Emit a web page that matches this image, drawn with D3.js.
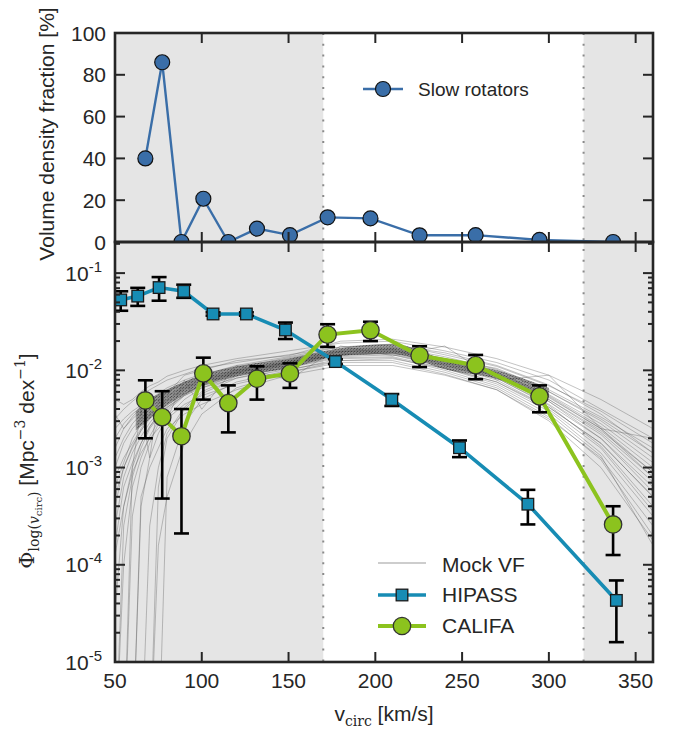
<!DOCTYPE html>
<html>
<head>
<meta charset="utf-8">
<script src="https://cdn.jsdelivr.net/npm/d3@7"></script>
<style>
  body { margin: 0; background: #fff; }
  text { font-family: "Liberation Sans", Arial, sans-serif; fill: #262626; }
  .serif { font-family: "DejaVu Serif", "Liberation Serif", serif; }
</style>
</head>
<body>
<div id="chart"></div>
<script>
// slow rotator fraction (top panel), same bins as CALIFA
var califaV = [67.5, 77.2, 88.3, 100.9, 115.3, 131.8, 150.8, 172.5, 197.2, 225.5, 257.8, 294.6, 337];
var slowFrac = [40, 86, 0, 20.7, 0, 6.4, 3.3, 11.8, 11.3, 3.2, 3.3, 1, 0];

// CALIFA velocity function
var califaPhi = [0.0049, 0.0033, 0.0021, 0.0093, 0.0046, 0.0082, 0.0093, 0.0233, 0.0258, 0.0142, 0.0113, 0.0054, 0.00026];
var califaHi  = [0.0079, 0.0061, 0.0040, 0.0135, 0.0070, 0.0110, 0.0118, 0.0298, 0.0316, 0.0177, 0.0144, 0.0070, 0.00040];
var califaLo  = [0.0020, 0.00048, 0.00021, 0.0050, 0.0023, 0.0050, 0.0066, 0.0174, 0.0200, 0.0108, 0.0081, 0.0037, 0.000126];

// HIPASS velocity function
var hipassV   = [53.3, 63.1, 75.4, 89.6, 106.5, 125.7, 148.2, 177, 209.5, 248.5, 287.9, 338.9];
var hipassPhi = [0.053, 0.058, 0.071, 0.065, 0.038, 0.038, 0.026, 0.0123, 0.0050, 0.0016, 0.00042, 0.000043];
var hipassHi  = [0.065, 0.0705, 0.091, 0.076, 0.0395, 0.0395, 0.031, 0.0130, 0.0057, 0.0019, 0.00059, 0.000069];
var hipassLo  = [0.041, 0.046, 0.052, 0.0557, 0.0365, 0.0365, 0.021, 0.0116, 0.0043, 0.00128, 0.00026, 0.000016];

// mock velocity functions, log10(phi) on a common grid
var mockV = [50, 55, 60, 65, 70, 75, 80, 90, 100, 120, 150, 180, 210, 240, 270, 300, 330, 360];
var mockCurves = [
  [-3.10,-2.90,-2.75,-2.60,-2.45,-2.35,-2.27,-2.17,-2.10,-2.00,-1.90,-1.80,-1.79,-1.92,-2.04,-2.28,-2.60,-3.10],
  [-2.50,-2.40,-2.32,-2.25,-2.20,-2.15,-2.10,-2.04,-1.98,-1.92,-1.84,-1.76,-1.74,-1.82,-1.95,-2.15,-2.45,-2.85],
  [-6.00,-3.60,-3.10,-2.80,-2.60,-2.48,-2.38,-2.25,-2.15,-2.03,-1.92,-1.83,-1.80,-1.90,-2.02,-2.25,-2.55,-2.95],
  [-3.40,-3.00,-2.80,-2.62,-2.50,-2.40,-2.32,-2.20,-2.12,-2.02,-1.93,-1.82,-1.83,-1.95,-2.10,-2.38,-2.75,-3.30],
  [-2.80,-2.60,-2.48,-2.38,-2.30,-2.24,-2.18,-2.10,-2.04,-1.96,-1.88,-1.79,-1.77,-1.88,-1.98,-2.20,-2.48,-2.80],
  [-6.00,-6.00,-3.50,-3.00,-2.75,-2.55,-2.42,-2.26,-2.16,-2.04,-1.95,-1.85,-1.82,-1.93,-2.06,-2.32,-2.70,-3.25],
  [-2.30,-2.35,-2.30,-2.22,-2.16,-2.12,-2.06,-2.00,-1.95,-1.88,-1.80,-1.72,-1.70,-1.80,-1.92,-2.10,-2.40,-2.70],
  [-3.80,-3.20,-2.95,-2.75,-2.58,-2.46,-2.36,-2.24,-2.16,-2.06,-1.97,-1.87,-1.86,-1.98,-2.14,-2.42,-2.85,-3.50],
  [-6.00,-6.00,-6.00,-3.40,-2.90,-2.65,-2.48,-2.30,-2.18,-2.05,-1.93,-1.83,-1.81,-1.91,-2.05,-2.30,-2.62,-3.05],
  [-3.00,-2.75,-2.60,-2.50,-2.40,-2.32,-2.26,-2.16,-2.08,-1.99,-1.89,-1.80,-1.78,-1.89,-2.02,-2.26,-2.58,-3.00],
  [-4.50,-3.40,-3.00,-2.75,-2.58,-2.46,-2.38,-2.26,-2.18,-2.08,-1.99,-1.90,-1.90,-2.02,-2.18,-2.48,-2.92,-3.70],
  [-2.60,-2.50,-2.42,-2.36,-2.30,-2.25,-2.20,-2.12,-2.05,-1.95,-1.86,-1.76,-1.73,-1.84,-1.96,-2.16,-2.42,-2.75],
  [-6.00,-6.00,-6.00,-6.00,-6.00,-3.20,-2.70,-2.40,-2.24,-2.08,-1.96,-1.86,-1.84,-1.95,-2.08,-2.35,-2.70,-3.20],
  [-3.20,-2.95,-2.70,-2.55,-2.45,-2.38,-2.30,-2.18,-2.10,-2.02,-1.92,-1.81,-1.80,-1.91,-2.05,-2.32,-2.66,-3.15],
  [-2.90,-2.70,-2.55,-2.45,-2.36,-2.28,-2.22,-2.13,-2.06,-1.97,-1.87,-1.78,-1.76,-1.86,-1.99,-2.22,-2.52,-2.90],
  [-6.00,-6.00,-6.00,-6.00,-3.60,-3.00,-2.65,-2.38,-2.22,-2.06,-1.94,-1.84,-1.82,-1.94,-2.08,-2.36,-2.78,-3.40],
  [-3.60,-3.10,-2.85,-2.68,-2.54,-2.43,-2.34,-2.22,-2.13,-2.03,-1.93,-1.84,-1.82,-1.93,-2.06,-2.30,-2.64,-3.10],
  [-2.70,-2.55,-2.45,-2.38,-2.32,-2.26,-2.22,-2.14,-2.08,-2.00,-1.92,-1.84,-1.84,-1.97,-2.12,-2.40,-2.80,-3.45],
  [-6.00,-4.00,-3.20,-2.90,-2.68,-2.52,-2.40,-2.25,-2.14,-2.02,-1.91,-1.81,-1.78,-1.88,-2.00,-2.22,-2.50,-2.85],
  [-3.30,-3.00,-2.78,-2.62,-2.48,-2.38,-2.30,-2.19,-2.11,-2.01,-1.91,-1.81,-1.79,-1.90,-2.03,-2.27,-2.60,-3.05],
  [-6.00,-6.00,-3.00,-2.40,-2.90,-2.30,-2.50,-2.10,-2.40,-1.95,-2.10,-1.75,-1.85,-1.75,-2.10,-2.05,-2.60,-2.70],
  [-6.00,-6.00,-6.00,-3.30,-3.00,-2.80,-2.60,-2.45,-2.35,-2.20,-2.05,-1.95,-1.95,-2.05,-2.20,-2.50,-2.90,-3.60],
  [-2.45,-2.60,-2.50,-2.42,-2.35,-2.30,-2.24,-2.05,-2.00,-1.90,-1.85,-1.70,-1.68,-1.76,-1.88,-2.05,-2.30,-2.60],
  [-6.00,-6.00,-6.00,-6.00,-6.00,-6.00,-3.10,-2.55,-2.30,-2.12,-2.00,-1.88,-1.87,-2.00,-2.16,-2.45,-2.88,-3.80],
  [-3.90,-3.40,-3.05,-2.85,-2.70,-2.60,-2.50,-2.35,-2.26,-2.14,-2.02,-1.92,-1.92,-2.04,-2.20,-2.52,-3.00,-3.75],
  [-6.00,-6.00,-6.00,-6.00,-6.00,-3.80,-3.30,-2.75,-2.45,-2.18,-2.02,-1.90,-1.88,-1.98,-2.12,-2.38,-2.75,-3.30]
];
// dense core of the mock curves, log10(phi)
var coreV  = [62, 70, 80, 100, 120, 150, 180, 210, 240, 270, 300];
var coreHi = [-2.42, -2.30, -2.20, -2.05, -1.96, -1.88, -1.77, -1.73, -1.89, -2.00, -2.18];
var coreLo = [-2.62, -2.50, -2.36, -2.16, -2.06, -1.98, -1.85, -1.83, -1.99, -2.09, -2.28];

var xTicks = [50, 100, 150, 200, 250, 300, 350];
var fracTicks = [0, 20, 40, 60, 80, 100];
var decades = [-5, -4, -3, -2, -1];

var W = 673, H = 729;
var left = 115, right = 653, top0 = 33, mid = 242, bottom = 662;
var blue = "#3a6ea8", teal = "#178cb4", green = "#8cc31e", ink = "#262626";

var svg = d3.select("#chart").append("svg")
  .attr("width", W)
  .attr("height", H);

var x = d3.scaleLinear().domain([50, 360]).range([left, right]);
var yTop = d3.scaleLinear().domain([0, 100]).range([mid, top0]);
var yBot = d3.scaleLog().domain([1e-5, Math.pow(10, -0.68)]).range([bottom, mid]);

var defs = svg.append("defs");
defs.append("clipPath").attr("id", "clipTop").append("rect")
  .attr("x", left).attr("y", top0).attr("width", right - left).attr("height", mid - top0);
defs.append("clipPath").attr("id", "clipBot").append("rect")
  .attr("x", left).attr("y", mid).attr("width", right - left).attr("height", bottom - mid);

// stipple look for the dense core of the mock curves
var pat = defs.append("pattern").attr("id", "stipple")
  .attr("width", 3).attr("height", 3).attr("patternUnits", "userSpaceOnUse");
pat.append("rect").attr("width", 3).attr("height", 3).style("fill", "#555");
pat.append("rect").attr("width", 1).attr("height", 1).style("fill", "#000");
pat.append("rect").attr("x", 2).attr("y", 1).attr("width", 1).attr("height", 1).style("fill", "#111");

// shaded regions outside 170-320 km/s
[[50, 170], [320, 360]].forEach(function (r) {
  svg.append("rect")
    .attr("x", x(r[0])).attr("width", x(r[1]) - x(r[0]))
    .attr("y", top0).attr("height", bottom - top0)
    .style("fill", "#e5e5e5");
});
[170, 320].forEach(function (v) {
  svg.append("line")
    .attr("x1", x(v)).attr("x2", x(v))
    .attr("y1", top0).attr("y2", bottom)
    .style("stroke", "#8a8a8a")
    .style("stroke-width", 2)
    .style("stroke-dasharray", "2,8.8");
});

// ---- top panel ----
var gTop = svg.append("g").attr("clip-path", "url(#clipTop)");
gTop.append("path")
  .datum(slowFrac)
  .attr("d", d3.line().x(function (d, i) { return x(califaV[i]); }).y(function (d) { return yTop(d); }))
  .style("fill", "none").style("stroke", blue).style("stroke-width", 2.4);
svg.append("g").selectAll("circle")
  .data(slowFrac).enter().append("circle")
  .attr("cx", function (d, i) { return x(califaV[i]); })
  .attr("cy", function (d) { return yTop(d); })
  .attr("r", 7.5)
  .style("fill", blue).style("stroke", "#111").style("stroke-width", 1.2)
  .attr("clip-path", "url(#clipTop)");

// legend top
svg.append("line").attr("x1", 363).attr("x2", 403).attr("y1", 89).attr("y2", 89)
  .style("stroke", blue).style("stroke-width", 2.4);
svg.append("circle").attr("cx", 383).attr("cy", 89).attr("r", 7.5)
  .style("fill", blue).style("stroke", "#111").style("stroke-width", 1.2);
svg.append("text").attr("x", 418).attr("y", 96).style("font-size", "19px").text("Slow rotators");

// ---- bottom panel ----
var gBot = svg.append("g").attr("clip-path", "url(#clipBot)");

var mockLine = d3.line()
  .x(function (d, i) { return x(mockV[i]); })
  .y(function (d) { return yBot(Math.pow(10, d)); });
gBot.selectAll(".mock")
  .data(mockCurves).enter().append("path")
  .classed("mock", true)
  .attr("d", mockLine)
  .style("fill", "none").style("stroke", "#5a5a5a")
  .style("stroke-width", 1).style("opacity", 0.36);

gBot.append("path")
  .datum(coreV)
  .attr("d", d3.area()
    .curve(d3.curveMonotoneX)
    .x(function (d) { return x(d); })
    .y0(function (d, i) { return yBot(Math.pow(10, coreLo[i])); })
    .y1(function (d, i) { return yBot(Math.pow(10, coreHi[i])); }))
  .style("fill", "url(#stipple)").style("opacity", 0.55);

function errorBars(g, vs, lo, hi) {
  var bars = g.append("g");
  vs.forEach(function (v, i) {
    bars.append("line")
      .attr("x1", x(v)).attr("x2", x(v))
      .attr("y1", yBot(lo[i])).attr("y2", yBot(hi[i]));
    [lo[i], hi[i]].forEach(function (e) {
      bars.append("line")
        .attr("x1", x(v) - 7.5).attr("x2", x(v) + 7.5)
        .attr("y1", yBot(e)).attr("y2", yBot(e));
    });
  });
  bars.selectAll("line").style("stroke", "#000").style("stroke-width", 2.6);
}

// HIPASS
gBot.append("path")
  .datum(hipassPhi)
  .attr("d", d3.line().x(function (d, i) { return x(hipassV[i]); }).y(function (d) { return yBot(d); }))
  .style("fill", "none").style("stroke", teal).style("stroke-width", 3.6);
errorBars(gBot, hipassV, hipassLo, hipassHi);
gBot.selectAll(".hip")
  .data(hipassPhi).enter().append("rect")
  .classed("hip", true)
  .attr("x", function (d, i) { return x(hipassV[i]) - 5.8; })
  .attr("y", function (d) { return yBot(d) - 5.8; })
  .attr("width", 11.6).attr("height", 11.6)
  .style("fill", teal).style("stroke", "#1a1a1a").style("stroke-width", 1.3);

// CALIFA
gBot.append("path")
  .datum(califaPhi)
  .attr("d", d3.line().x(function (d, i) { return x(califaV[i]); }).y(function (d) { return yBot(d); }))
  .style("fill", "none").style("stroke", green).style("stroke-width", 4);
errorBars(gBot, califaV, califaLo, califaHi);
gBot.selectAll(".cal")
  .data(califaPhi).enter().append("circle")
  .classed("cal", true)
  .attr("cx", function (d, i) { return x(califaV[i]); })
  .attr("cy", function (d) { return yBot(d); })
  .attr("r", 8.7)
  .style("fill", green).style("stroke", "#333").style("stroke-width", 1.3);

// legend bottom
svg.append("line").attr("x1", 378).attr("x2", 426).attr("y1", 563).attr("y2", 563)
  .style("stroke", "#bdbdbd").style("stroke-width", 1.6);
svg.append("line").attr("x1", 378).attr("x2", 426).attr("y1", 595).attr("y2", 595)
  .style("stroke", teal).style("stroke-width", 3.6);
svg.append("rect").attr("x", 402 - 5.8).attr("y", 595 - 5.8).attr("width", 11.6).attr("height", 11.6)
  .style("fill", teal).style("stroke", "#1a1a1a").style("stroke-width", 1.3);
svg.append("line").attr("x1", 378).attr("x2", 426).attr("y1", 626).attr("y2", 626)
  .style("stroke", green).style("stroke-width", 4);
svg.append("circle").attr("cx", 402).attr("cy", 626).attr("r", 8.7)
  .style("fill", green).style("stroke", "#333").style("stroke-width", 1.3);
[["Mock VF", 571.5], ["HIPASS", 601.8], ["CALIFA", 632.5]].forEach(function (e) {
  svg.append("text").attr("x", 442).attr("y", e[1]).style("font-size", "21px").text(e[0]);
});

// ---- ticks ----
var ticks = svg.append("g").style("stroke", ink).style("stroke-width", 2);
function tick(x1, y1, x2, y2) {
  ticks.append("line").attr("x1", x1).attr("y1", y1).attr("x2", x2).attr("y2", y2);
}
xTicks.slice(1).forEach(function (v) {
  tick(x(v), top0, x(v), top0 + 10);
  tick(x(v), mid, x(v), mid - 10);
  tick(x(v), mid, x(v), mid + 10);
  tick(x(v), bottom, x(v), bottom - 10);
});
fracTicks.slice(1, -1).forEach(function (f) {
  tick(left, yTop(f), left + 10, yTop(f));
  tick(right, yTop(f), right - 10, yTop(f));
});
decades.forEach(function (d) {
  var base = Math.pow(10, d);
  if (d > -5) {
    tick(left, yBot(base), left + 10, yBot(base));
    tick(right, yBot(base), right - 10, yBot(base));
  }
  for (var k = 2; k <= 9; k++) {
    var yy = yBot(k * base);
    if (yy < mid) continue;
    tick(left, yy, left + 5, yy);
    tick(right, yy, right - 5, yy);
  }
});

// frames
[[top0, mid], [mid, bottom]].forEach(function (p) {
  svg.append("rect")
    .attr("x", left).attr("y", p[0])
    .attr("width", right - left).attr("height", p[1] - p[0])
    .style("fill", "none").style("stroke", ink).style("stroke-width", 2.6);
});

// tick labels
svg.append("g").selectAll("text")
  .data(xTicks).enter().append("text")
  .attr("x", function (d) { return x(d); })
  .attr("y", 688)
  .attr("text-anchor", "middle")
  .style("font-size", "21px")
  .text(function (d) { return d; });

svg.append("g").selectAll("text")
  .data(fracTicks).enter().append("text")
  .attr("x", 106)
  .attr("y", function (d) { return yTop(d) + 7.5; })
  .attr("text-anchor", "end")
  .style("font-size", "21px")
  .text(function (d) { return d; });

decades.forEach(function (d) {
  var t = svg.append("text")
    .attr("x", 102)
    .attr("y", yBot(Math.pow(10, d)) + 7.5)
    .attr("text-anchor", "end")
    .style("font-size", "21px");
  t.append("tspan").text("10");
  t.append("tspan").attr("dy", -9).style("font-size", "15px").text(d);
});

// axis labels
var xl = svg.append("text")
  .attr("x", 384).attr("y", 721)
  .attr("text-anchor", "middle")
  .style("font-size", "21px");
xl.append("tspan").text("v");
xl.append("tspan").attr("class", "serif").attr("dy", 5).style("font-size", "14px").text("circ");
xl.append("tspan").attr("dy", -5).text(" [km/s]");

svg.append("text")
  .attr("transform", "translate(54,134) rotate(-90)")
  .attr("text-anchor", "middle")
  .style("font-size", "21px")
  .text("Volume density fraction [%]");

var yl = svg.append("text")
  .attr("transform", "translate(34,461) rotate(-90)")
  .attr("text-anchor", "middle")
  .style("font-size", "21px");
yl.append("tspan").attr("class", "serif").text("\u03a6");
yl.append("tspan").attr("class", "serif").attr("dy", 5).style("font-size", "14px").text("log(");
yl.append("tspan").attr("class", "serif").style("font-size", "14px").style("font-style", "italic").text("v");
yl.append("tspan").attr("class", "serif").attr("dy", 3).style("font-size", "10px").text("circ");
yl.append("tspan").attr("class", "serif").attr("dy", -3).style("font-size", "14px").text(")");
yl.append("tspan").attr("dy", -5).text(" [Mpc");
yl.append("tspan").attr("class", "serif").attr("dy", -9).style("font-size", "14px").text("\u22123");
yl.append("tspan").attr("dy", 9).text(" dex");
yl.append("tspan").attr("class", "serif").attr("dy", -9).style("font-size", "14px").text("\u22121");
yl.append("tspan").attr("dy", 9).text("]");
</script>
</body>
</html>
